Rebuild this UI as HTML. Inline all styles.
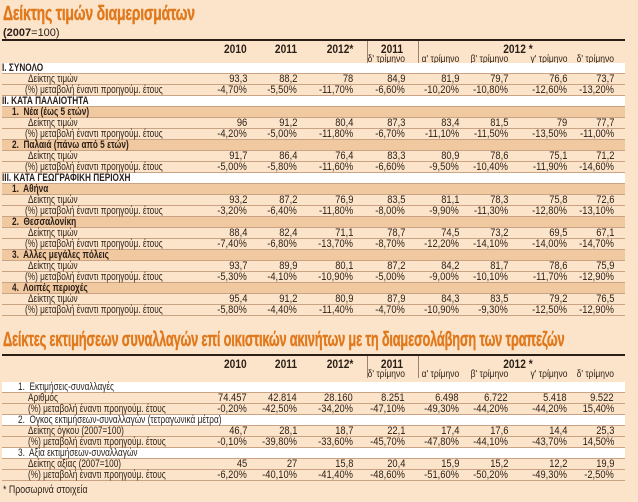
<!DOCTYPE html>
<html><head><meta charset="utf-8"><style>
body{margin:0;width:638px;height:502px;background:#fce4ca;position:relative;overflow:hidden;font-family:"Liberation Sans","DejaVu Sans",sans-serif;color:#2a1e16}
.t{position:absolute;left:3px;font-weight:bold;color:#e0781c;font-size:20px;white-space:nowrap;transform-origin:left;letter-spacing:-.3px;-webkit-text-stroke:.4px #e0781c}
.r{position:absolute;left:2px;width:623px;height:11px;border-bottom:1px solid #c9a384;box-sizing:border-box;font-size:11px;line-height:11px}
.w{background:#fff}.d{background:#f0c9a1}
.l{position:absolute;top:0;white-space:nowrap;transform:scaleX(.75);transform-origin:left}
.b{font-weight:bold}
.r span.v{position:absolute;top:0;white-space:nowrap;transform:scaleX(.85);transform-origin:right}
.h{position:absolute;font-size:12px;font-weight:bold;white-space:nowrap;transform:scaleX(.85);transform-origin:right}
.q{position:absolute;font-size:10px;white-space:nowrap;transform:scaleX(.85);transform-origin:right}
.ln{position:absolute;background:#2a1e16}
.c0{right:378px}.c1{right:328px}.c2{right:272px}.c3{right:220px}.c4{right:166px}.c5{right:117px}.c6{right:58px}.c7{right:11px}
</style></head><body>
<div class="t" style="top:3px;transform:scaleX(.7)">Δείκτης τιμών διαμερισμάτων</div>
<div style="position:absolute;left:3px;top:27px;font-size:11px"><b>(2007</b>=100)</div>
<div class="ln" style="left:2px;top:39px;width:623px;height:2px"></div>
<div class="ln" style="left:367px;top:41px;width:1px;height:22px;background:#a08070"></div>
<div class="ln" style="left:418px;top:41px;width:1px;height:22px;background:#a08070"></div>
<div class="h" style="right:391px;top:42px">2010</div>
<div class="h" style="right:341px;top:42px">2011</div>
<div class="h" style="right:285px;top:42px">2012*</div>
<div class="h" style="right:235px;top:42px">2011</div>
<div class="h" style="right:105px;top:42px">2012 *</div>
<div class="q" style="right:233px;top:54px">δ' τρίμηνο</div>
<div class="q" style="right:179px;top:54px">α' τρίμηνο</div>
<div class="q" style="right:130px;top:54px">β' τρίμηνο</div>
<div class="q" style="right:71px;top:54px">γ' τρίμηνο</div>
<div class="q" style="right:24px;top:54px">δ' τρίμηνο</div>

<div class="r w" style="top:63px"><span class="l b" style="left:0">I. ΣΥΝΟΛΟ</span></div>
<div class="r" style="top:74px"><span class="l" style="left:26px">Δείκτης τιμών</span><span class="v c0">93,3</span><span class="v c1">88,2</span><span class="v c2">78</span><span class="v c3">84,9</span><span class="v c4">81,9</span><span class="v c5">79,7</span><span class="v c6">76,6</span><span class="v c7">73,7</span></div>
<div class="r" style="top:85px"><span class="l" style="left:23px">(%) μεταβολή έναντι προηγούμ. έτους</span><span class="v c0">-4,70%</span><span class="v c1">-5,50%</span><span class="v c2">-11,70%</span><span class="v c3">-6,60%</span><span class="v c4">-10,20%</span><span class="v c5">-10,80%</span><span class="v c6">-12,60%</span><span class="v c7">-13,20%</span></div>
<div class="r w" style="top:96px"><span class="l b" style="left:0">II. ΚΑΤΑ ΠΑΛΑΙΟΤΗΤΑ</span></div>
<div class="r d" style="top:107px"><span class="l b" style="left:10px">1.&nbsp; Νέα (έως 5 ετών)</span></div>
<div class="r" style="top:118px"><span class="l" style="left:26px">Δείκτης τιμών</span><span class="v c0">96</span><span class="v c1">91,2</span><span class="v c2">80,4</span><span class="v c3">87,3</span><span class="v c4">83,4</span><span class="v c5">81,5</span><span class="v c6">79</span><span class="v c7">77,7</span></div>
<div class="r" style="top:129px"><span class="l" style="left:23px">(%) μεταβολή έναντι προηγούμ. έτους</span><span class="v c0">-4,20%</span><span class="v c1">-5,00%</span><span class="v c2">-11,80%</span><span class="v c3">-6,70%</span><span class="v c4">-11,10%</span><span class="v c5">-11,50%</span><span class="v c6">-13,50%</span><span class="v c7">-11,00%</span></div>
<div class="r d" style="top:140px"><span class="l b" style="left:10px">2.&nbsp; Παλαιά (πάνω από 5 ετών)</span></div>
<div class="r" style="top:151px"><span class="l" style="left:26px">Δείκτης τιμών</span><span class="v c0">91,7</span><span class="v c1">86,4</span><span class="v c2">76,4</span><span class="v c3">83,3</span><span class="v c4">80,9</span><span class="v c5">78,6</span><span class="v c6">75,1</span><span class="v c7">71,2</span></div>
<div class="r" style="top:162px"><span class="l" style="left:23px">(%) μεταβολή έναντι προηγούμ. έτους</span><span class="v c0">-5,00%</span><span class="v c1">-5,80%</span><span class="v c2">-11,60%</span><span class="v c3">-6,60%</span><span class="v c4">-9,50%</span><span class="v c5">-10,40%</span><span class="v c6">-11,90%</span><span class="v c7">-14,60%</span></div>
<div class="r w" style="top:173px"><span class="l b" style="left:0">III. ΚΑΤΑ ΓΕΩΓΡΑΦΙΚΗ ΠΕΡΙΟΧΗ</span></div>
<div class="r d" style="top:184px"><span class="l b" style="left:10px">1.&nbsp; Αθήνα</span></div>
<div class="r" style="top:195px"><span class="l" style="left:26px">Δείκτης τιμών</span><span class="v c0">93,2</span><span class="v c1">87,2</span><span class="v c2">76,9</span><span class="v c3">83,5</span><span class="v c4">81,1</span><span class="v c5">78,3</span><span class="v c6">75,8</span><span class="v c7">72,6</span></div>
<div class="r" style="top:206px"><span class="l" style="left:23px">(%) μεταβολή έναντι προηγούμ. έτους</span><span class="v c0">-3,20%</span><span class="v c1">-6,40%</span><span class="v c2">-11,80%</span><span class="v c3">-8,00%</span><span class="v c4">-9,90%</span><span class="v c5">-11,30%</span><span class="v c6">-12,80%</span><span class="v c7">-13,10%</span></div>
<div class="r d" style="top:217px"><span class="l b" style="left:10px">2.&nbsp; Θεσσαλονίκη</span></div>
<div class="r" style="top:228px"><span class="l" style="left:26px">Δείκτης τιμών</span><span class="v c0">88,4</span><span class="v c1">82,4</span><span class="v c2">71,1</span><span class="v c3">78,7</span><span class="v c4">74,5</span><span class="v c5">73,2</span><span class="v c6">69,5</span><span class="v c7">67,1</span></div>
<div class="r" style="top:239px"><span class="l" style="left:23px">(%) μεταβολή έναντι προηγούμ. έτους</span><span class="v c0">-7,40%</span><span class="v c1">-6,80%</span><span class="v c2">-13,70%</span><span class="v c3">-8,70%</span><span class="v c4">-12,20%</span><span class="v c5">-14,10%</span><span class="v c6">-14,00%</span><span class="v c7">-14,70%</span></div>
<div class="r d" style="top:250px"><span class="l b" style="left:10px">3.&nbsp; Αλλες μεγάλες πόλεις</span></div>
<div class="r" style="top:261px"><span class="l" style="left:26px">Δείκτης τιμών</span><span class="v c0">93,7</span><span class="v c1">89,9</span><span class="v c2">80,1</span><span class="v c3">87,2</span><span class="v c4">84,2</span><span class="v c5">81,7</span><span class="v c6">78,6</span><span class="v c7">75,9</span></div>
<div class="r" style="top:272px"><span class="l" style="left:23px">(%) μεταβολή έναντι προηγούμ. έτους</span><span class="v c0">-5,30%</span><span class="v c1">-4,10%</span><span class="v c2">-10,90%</span><span class="v c3">-5,00%</span><span class="v c4">-9,00%</span><span class="v c5">-10,10%</span><span class="v c6">-11,70%</span><span class="v c7">-12,90%</span></div>
<div class="r d" style="top:283px"><span class="l b" style="left:10px">4.&nbsp; Λοιπές περιοχές</span></div>
<div class="r" style="top:294px"><span class="l" style="left:26px">Δείκτης τιμών</span><span class="v c0">95,4</span><span class="v c1">91,2</span><span class="v c2">80,9</span><span class="v c3">87,9</span><span class="v c4">84,3</span><span class="v c5">83,5</span><span class="v c6">79,2</span><span class="v c7">76,5</span></div>
<div class="r" style="top:305px"><span class="l" style="left:23px">(%) μεταβολή έναντι προηγούμ. έτους</span><span class="v c0">-5,80%</span><span class="v c1">-4,40%</span><span class="v c2">-11,40%</span><span class="v c3">-4,70%</span><span class="v c4">-10,90%</span><span class="v c5">-9,30%</span><span class="v c6">-12,50%</span><span class="v c7">-12,90%</span></div>

<div class="t" style="top:329px;transform:scaleX(.64)">Δείκτες εκτιμήσεων συναλλαγών επί οικιστικών ακινήτων με τη διαμεσολάβηση των τραπεζών</div>
<div class="ln" style="left:2px;top:354px;width:623px;height:2px"></div>
<div class="ln" style="left:367px;top:356px;width:1px;height:22px;background:#a08070"></div>
<div class="ln" style="left:418px;top:356px;width:1px;height:22px;background:#a08070"></div>
<div class="h" style="right:391px;top:357px">2010</div>
<div class="h" style="right:341px;top:357px">2011</div>
<div class="h" style="right:285px;top:357px">2012*</div>
<div class="h" style="right:235px;top:357px">2011</div>
<div class="h" style="right:105px;top:357px">2012 *</div>
<div class="q" style="right:233px;top:369px">δ' τρίμηνο</div>
<div class="q" style="right:179px;top:369px">α' τρίμηνο</div>
<div class="q" style="right:130px;top:369px">β' τρίμηνο</div>
<div class="q" style="right:71px;top:369px">γ' τρίμηνο</div>
<div class="q" style="right:24px;top:369px">δ' τρίμηνο</div>

<div class="r w" style="top:382px"><span class="l" style="left:16px">1.&nbsp; Εκτιμήσεις-συναλλαγές</span></div>
<div class="r" style="top:393px"><span class="l" style="left:26px">Αριθμός</span><span class="v c0">74.457</span><span class="v c1">42.814</span><span class="v c2">28.160</span><span class="v c3">8.251</span><span class="v c4">6.498</span><span class="v c5">6.722</span><span class="v c6">5.418</span><span class="v c7">9.522</span></div>
<div class="r" style="top:404px"><span class="l" style="left:26px">(%) μεταβολή έναντι προηγούμ. έτους</span><span class="v c0">-0,20%</span><span class="v c1">-42,50%</span><span class="v c2">-34,20%</span><span class="v c3">-47,10%</span><span class="v c4">-49,30%</span><span class="v c5">-44,20%</span><span class="v c6">-44,20%</span><span class="v c7">15,40%</span></div>
<div class="r w" style="top:415px"><span class="l" style="left:16px">2.&nbsp; Ογκος εκτιμήσεων-συναλλαγών (τετραγωνικά μέτρα)</span></div>
<div class="r" style="top:426px"><span class="l" style="left:26px">Δείκτης όγκου (2007=100)</span><span class="v c0">46,7</span><span class="v c1">28,1</span><span class="v c2">18,7</span><span class="v c3">22,1</span><span class="v c4">17,4</span><span class="v c5">17,6</span><span class="v c6">14,4</span><span class="v c7">25,3</span></div>
<div class="r" style="top:437px"><span class="l" style="left:26px">(%) μεταβολή έναντι προηγούμ. έτους</span><span class="v c0">-0,10%</span><span class="v c1">-39,80%</span><span class="v c2">-33,60%</span><span class="v c3">-45,70%</span><span class="v c4">-47,80%</span><span class="v c5">-44,10%</span><span class="v c6">-43,70%</span><span class="v c7">14,50%</span></div>
<div class="r w" style="top:448px"><span class="l" style="left:16px">3.&nbsp; Αξία εκτιμήσεων-συναλλαγών</span></div>
<div class="r" style="top:459px"><span class="l" style="left:26px">Δείκτης αξίας (2007=100)</span><span class="v c0">45</span><span class="v c1">27</span><span class="v c2">15,8</span><span class="v c3">20,4</span><span class="v c4">15,9</span><span class="v c5">15,2</span><span class="v c6">12,2</span><span class="v c7">19,9</span></div>
<div class="r" style="top:470px"><span class="l" style="left:26px">(%) μεταβολή έναντι προηγούμ. έτους</span><span class="v c0">-6,20%</span><span class="v c1">-40,10%</span><span class="v c2">-41,40%</span><span class="v c3">-48,60%</span><span class="v c4">-51,60%</span><span class="v c5">-50,20%</span><span class="v c6">-49,30%</span><span class="v c7">-2,50%</span></div>
<div style="position:absolute;left:3px;top:484px;font-size:11px;white-space:nowrap;transform:scaleX(.8);transform-origin:left">* Προσωρινά στοιχεία</div>
</body></html>
